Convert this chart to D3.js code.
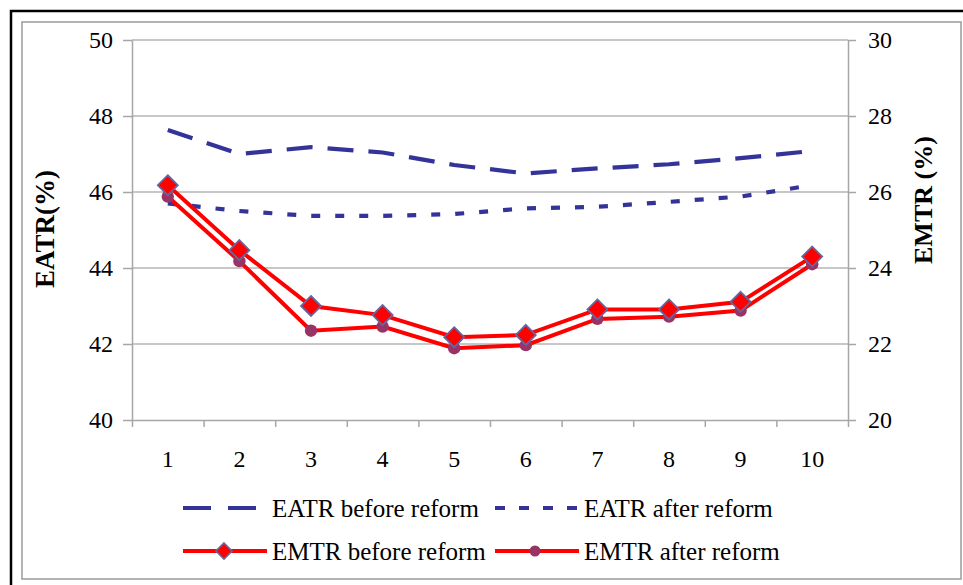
<!DOCTYPE html>
<meta charset="utf-8">
<style>
  body { margin: 0; background: #fff; }
  text { font-family: "Liberation Serif", "Times New Roman", serif; fill: #000; }
</style>
<body>
<script src="https://cdn.jsdelivr.net/npm/d3@7"></script>
<script>

  let width = 963,
    height = 585;

  // data
  let deciles = [1, 2, 3, 4, 5, 6, 7, 8, 9, 10];
  let eatrBefore = [47.63, 47.0, 47.18, 47.04, 46.71, 46.49, 46.62, 46.73, 46.89, 47.08];
  let eatrAfter = [45.70, 45.50, 45.37, 45.37, 45.42, 45.57, 45.61, 45.74, 45.88, 46.18];
  let emtrBefore = [26.18, 24.47, 23.0, 22.76, 22.18, 22.24, 22.91, 22.91, 23.11, 24.30];
  let emtrAfter = [25.88, 24.18, 22.35, 22.46, 21.89, 21.97, 22.66, 22.72, 22.88, 24.10];
  let leftTicks = [40, 42, 44, 46, 48, 50];
  let rightTicks = [20, 22, 24, 26, 28, 30];

  let plot = {left: 132, right: 848, top: 40, bottom: 420};
  let navy = "#333399", red = "#ff0000", plum = "#993366", gridCol = "#b4b4b4";

  let svg = d3.select("body").append("svg")
    .attr("width", width)
    .attr("height", height);

  // frame
  svg.append("rect").attr("x", 22).attr("y", 22).attr("width", 939).attr("height", 557)
    .attr("fill", "none").attr("stroke", "#9a9a9a").attr("stroke-width", 1.5);
  svg.append("path").attr("d", "M11,585V11H963").attr("fill", "none")
    .attr("stroke", "#000").attr("stroke-width", 2.5);

  let x = d3.scaleLinear().domain([0.5, 10.5]).range([plot.left, plot.right]);
  let yL = d3.scaleLinear().domain([40, 50]).range([plot.bottom, plot.top]);
  let yR = d3.scaleLinear().domain([20, 30]).range([plot.bottom, plot.top]);

  // gridlines
  svg.append("g").selectAll("line")
    .data(leftTicks.slice(1))
    .enter().append("line")
    .attr("x1", plot.left).attr("x2", plot.right)
    .attr("y1", d => yL(d)).attr("y2", d => yL(d))
    .attr("stroke", gridCol).attr("stroke-width", 1.3);

  function styleAxis(g) {
    g.select(".domain").attr("stroke", "#a6a6a6").attr("stroke-width", 1.5);
    g.selectAll(".tick line").attr("stroke", "#a6a6a6").attr("stroke-width", 1.5);
    g.selectAll("text").attr("font-family", "Liberation Serif").attr("font-size", 24).attr("fill", "#000");
  }

  let gl = svg.append("g").attr("transform", "translate(" + plot.left + ",0)")
    .call(d3.axisLeft(yL).tickValues(leftTicks).tickSize(9).tickSizeOuter(0).tickPadding(10));
  styleAxis(gl);

  let gr = svg.append("g").attr("transform", "translate(" + plot.right + ",0)")
    .call(d3.axisRight(yR).tickValues(rightTicks).tickSize(8).tickSizeOuter(0).tickPadding(12));
  styleAxis(gr);

  let gx = svg.append("g").attr("transform", "translate(0," + plot.bottom + ")")
    .call(d3.axisBottom(x).tickValues(d3.range(0.5, 11, 1)).tickFormat("").tickSize(7).tickSizeOuter(0));
  styleAxis(gx);

  svg.append("g").selectAll("text")
    .data(deciles)
    .enter().append("text")
    .attr("x", d => x(d)).attr("y", 459)
    .attr("dy", "0.35em")
    .attr("text-anchor", "middle")
    .attr("font-size", 24)
    .text(d => d);

  // axis titles
  svg.append("text")
    .attr("transform", "translate(54,288) rotate(-90)")
    .attr("font-size", 27).attr("font-weight", "bold")
    .text("EATR(%)");
  svg.append("text")
    .attr("transform", "translate(932,264) rotate(-90)")
    .attr("font-size", 26).attr("font-weight", "bold")
    .text("EMTR (%)");

  let lineL = d3.line().x((d, i) => x(deciles[i])).y(d => yL(d));
  let lineR = d3.line().x((d, i) => x(deciles[i])).y(d => yR(d));

  svg.append("path").datum(eatrBefore).attr("d", lineL)
    .attr("fill", "none").attr("stroke", navy).attr("stroke-width", 4.2)
    .attr("stroke-dasharray", "26,15");
  svg.append("path").datum(eatrAfter).attr("d", lineL)
    .attr("fill", "none").attr("stroke", navy).attr("stroke-width", 4.2)
    .attr("stroke-dasharray", "9,15");

  svg.append("path").datum(emtrAfter).attr("d", lineR)
    .attr("fill", "none").attr("stroke", red).attr("stroke-width", 4);
  svg.append("path").datum(emtrBefore).attr("d", lineR)
    .attr("fill", "none").attr("stroke", red).attr("stroke-width", 4);

  let diamond = "M0,-10L10,0L0,10L-10,0Z";

  svg.append("g").selectAll("circle")
    .data(emtrAfter)
    .enter().append("circle")
    .attr("cx", (d, i) => x(deciles[i])).attr("cy", d => yR(d))
    .attr("r", 6.2).attr("fill", plum);

  svg.append("g").selectAll("path")
    .data(emtrBefore)
    .enter().append("path")
    .attr("d", diamond)
    .attr("transform", (d, i) => "translate(" + x(deciles[i]) + "," + yR(d) + ")")
    .attr("fill", red).attr("stroke", "#6666a0").attr("stroke-width", 1.8);

  // legend
  let legend = [
    {name: "EATR before reform", col: 0, row: 0, color: navy, dash: "28,17", len: 73, mark: null},
    {name: "EATR after reform", col: 1, row: 0, color: navy, dash: "10,14", len: 82, mark: null},
    {name: "EMTR before reform", col: 0, row: 1, color: red, dash: null, len: 84, mark: "diamond"},
    {name: "EMTR after reform", col: 1, row: 1, color: red, dash: null, len: 84, mark: "circle"}
  ];
  let colX = [183, 495], rowY = [508, 551];

  let li = svg.append("g").selectAll("g")
    .data(legend)
    .enter().append("g")
    .attr("transform", d => "translate(" + colX[d.col] + "," + rowY[d.row] + ")");

  li.append("line")
    .attr("x1", 0).attr("x2", d => d.len)
    .attr("stroke", d => d.color).attr("stroke-width", d => d.row ? 4 : 4.2)
    .attr("stroke-dasharray", d => d.dash);

  li.filter(d => d.mark === "diamond").append("path")
    .attr("d", "M0,-8L8,0L0,8L-8,0Z")
    .attr("transform", "translate(41,0)")
    .attr("fill", red).attr("stroke", "#6666a0").attr("stroke-width", 1.6);
  li.filter(d => d.mark === "circle").append("circle")
    .attr("cx", 40).attr("r", 5.5).attr("fill", plum);

  li.append("text")
    .attr("x", 89).attr("dy", "0.35em")
    .attr("font-size", 25)
    .text(d => d.name);

</script>
